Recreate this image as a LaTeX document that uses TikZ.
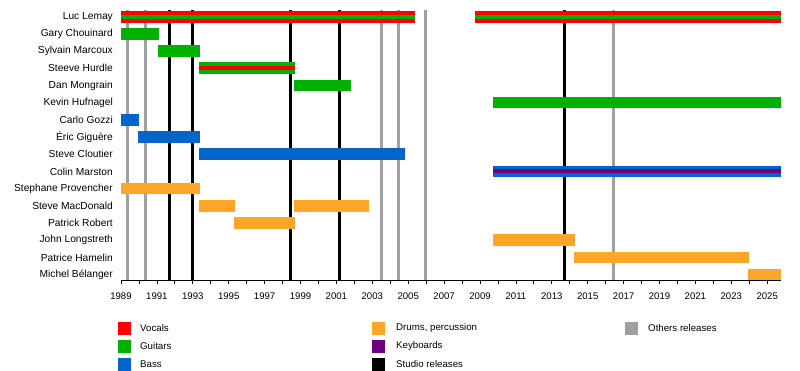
\documentclass[tikz,border=0pt]{standalone}
\usepackage{fontspec}
\setmainfont{Liberation Sans}
\definecolor{voc}{RGB}{255,0,0}
\definecolor{gui}{RGB}{0,178,0}
\definecolor{bas}{RGB}{0,102,204}
\definecolor{drm}{RGB}{255,165,40}
\definecolor{kbd}{RGB}{112,0,128}
\definecolor{oth}{RGB}{160,160,160}
\newcommand\yrx[1]{(121+(#1-1989)*17.95)}
\newcommand\rowy[1]{(16.7+17.19*#1)}
\newcommand\tlbar[4]{\fill[#1] ({\yrx{#3}},{\rowy{#2}-5.8}) rectangle ({\yrx{#4}},{\rowy{#2}+5.8});}
\newcommand\tlstripe[4]{\fill[#1] ({\yrx{#3}},{\rowy{#2}-2}) rectangle ({\yrx{#4}},{\rowy{#2}+2});}
\newcommand\rel[2]{\draw[#1,line width=3pt] ({\yrx{#2}},10) -- ({\yrx{#2}},280);}
\begin{document}
\begin{tikzpicture}[x=1pt,y=-1pt,
  lbl/.style={anchor=east,font=\fontsize{10.2}{12}\selectfont,inner sep=0pt},
  ticklbl/.style={anchor=center,font=\fontsize{9.6}{11}\selectfont,inner sep=0pt},
  leg/.style={anchor=west,font=\fontsize{9.7}{11}\selectfont,inner sep=0pt},
  sq/.style={minimum width=13pt,minimum height=13pt,inner sep=0pt}]
\useasboundingbox (0,0) rectangle (800,370);
% releases
\rel{oth}{1989.35}
\rel{oth}{1990.35}
\rel{oth}{2003.50}
\rel{oth}{2004.45}
\rel{oth}{2005.99}
\rel{oth}{2016.43}
\rel{black}{1991.69}
\rel{black}{1992.97}
\rel{black}{1998.43}
\rel{black}{2001.16}
\rel{black}{2013.70}
% bars
\tlbar{voc}{0}{1989}{2005.4}
\tlstripe{gui}{0}{1989}{2005.4}
\tlbar{voc}{0}{2008.7}{2025.77}
\tlstripe{gui}{0}{2008.7}{2025.77}
\tlbar{gui}{1}{1989}{1991.1}
\tlbar{gui}{2}{1991.07}{1993.4}
\tlbar{gui}{3}{1993.35}{1998.7}
\tlstripe{voc}{3}{1993.35}{1998.7}
\tlbar{gui}{4}{1998.64}{2001.8}
\tlbar{gui}{5}{2009.7}{2025.77}
\tlbar{bas}{6}{1989}{1990.0}
\tlbar{bas}{7}{1989.95}{1993.4}
\tlbar{bas}{8}{1993.35}{2004.8}
\tlbar{bas}{9}{2009.7}{2025.77}
\tlstripe{kbd}{9}{2009.7}{2025.77}
\tlbar{drm}{10}{1989}{1993.4}
\tlbar{drm}{11}{1993.35}{1995.35}
\tlbar{drm}{11}{1998.64}{2002.8}
\tlbar{drm}{12}{1995.3}{1998.7}
\tlbar{drm}{13}{2009.7}{2014.3}
\tlbar{drm}{14}{2014.25}{2024.0}
\tlbar{drm}{15}{2023.95}{2025.77}
% names
\node[lbl] (n0) at (113,{\rowy{0}}) {Luc Lemay};
\node[lbl] (n1) at (113,{\rowy{1}}) {Gary Chouinard};
\node[lbl] (n2) at (113,{\rowy{2}}) {Sylvain Marcoux};
\node[lbl] (n3) at (113,{\rowy{3}}) {Steeve Hurdle};
\node[lbl] (n4) at (113,{\rowy{4}}) {Dan Mongrain};
\node[lbl] (n5) at (113,{\rowy{5}}) {Kevin Hufnagel};
\node[lbl] (n6) at (113,{\rowy{6}}) {Carlo Gozzi};
\node[lbl] (n7) at (113,{\rowy{7}}) {Éric Giguère};
\node[lbl] (n8) at (113,{\rowy{8}}) {Steve Cloutier};
\node[lbl] (n9) at (113,{\rowy{9}}) {Colin Marston};
\node[lbl] (n10) at (113,{\rowy{10}}) {Stephane Provencher};
\node[lbl] (n11) at (113,{\rowy{11}}) {Steve MacDonald};
\node[lbl] (n12) at (113,{\rowy{12}}) {Patrick Robert};
\node[lbl] (n13) at (113,{\rowy{13}}) {John Longstreth};
\node[lbl] (n14) at (113,{\rowy{14}}) {Patrice Hamelin};
\node[lbl] (n15) at (113,{\rowy{15}}) {Michel Bélanger};
% axis
\coordinate (ax0) at ({\yrx{1989}},280);
\coordinate (ax1) at ({\yrx{2025.77}},280);
\draw[line width=1pt] (ax0) -- (ax1);
\foreach \y in {1989,...,2025} {
  \draw[line width=0.8pt] ({\yrx{\y}},280) -- ({\yrx{\y}},284);
}
\foreach \y in {1989,1991,...,2025} {
  \node[ticklbl] (t\y) at ({\yrx{\y}},296) {\y};
}
% legend
\node[sq,fill=voc] (s1) at (124.5,328) {};
\node[leg] (l1) at (140,328) {Vocals};
\node[sq,fill=gui] (s2) at (124.5,346) {};
\node[leg] (l2) at (140,346) {Guitars};
\node[sq,fill=bas] (s3) at (124.5,364) {};
\node[leg] (l3) at (140,364) {Bass};
\node[sq,fill=drm] (s4) at (378.5,328) {};
\node[leg] (l4) at (396,328) {Drums, percussion};
\node[sq,fill=kbd] (s5) at (378.5,346) {};
\node[leg] (l5) at (396,346) {Keyboards};
\node[sq,fill=black] (s6) at (378.5,364) {};
\node[leg] (l6) at (396,364) {Studio releases};
\node[sq,fill=oth] (s7) at (631,328) {};
\node[leg] (l7) at (648,328) {Others releases};
\end{tikzpicture}
\end{document}
